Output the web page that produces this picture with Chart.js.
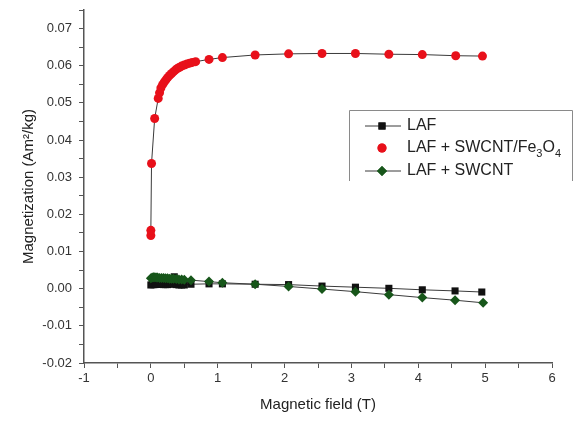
<!DOCTYPE html>
<html>
<head>
<meta charset="utf-8">
<script src="https://cdn.jsdelivr.net/npm/chart.js@4/dist/chart.umd.min.js"></script>
<style>
    html, body { margin: 0; padding: 0; background: #fff; }
    #wrap { position: relative; width: 578px; height: 421px; }
</style>
</head>
<body>
<div id="wrap"><canvas id="mhChart"></canvas></div>
<script>
// Magnetic field (T) / magnetization (Am2/kg)
const lafField = [0, 0.02, 0.04, 0.06, 0.08, 0.1, 0.13, 0.16, 0.19, 0.22, 0.25, 0.28, 0.31, 0.35, 0.38, 0.42, 0.46, 0.5, 0.6, 0.87, 1.07, 1.56, 2.06, 2.56, 3.06, 3.56, 4.06, 4.55, 4.95];
const lafMag = [0.0010, 0.0011, 0.0011, 0.0011, 0.0012, 0.0012, 0.0012, 0.0012, 0.0011, 0.0011, 0.0011, 0.0012, 0.0013, 0.0032, 0.0011, 0.0010, 0.0010, 0.0010, 0.0012, 0.0013, 0.0013, 0.0012, 0.0011, 0.0007, 0.0004, 0.0001, -0.0003, -0.0006, -0.0009];

const feField = [0, 0, 0.01, 0.057, 0.11, 0.13, 0.15, 0.175, 0.2, 0.225, 0.25, 0.28, 0.31, 0.34, 0.37, 0.4, 0.43, 0.46, 0.5, 0.54, 0.58, 0.62, 0.67, 0.87, 1.07, 1.56, 2.06, 2.56, 3.06, 3.56, 4.06, 4.56, 4.96];
const feMag = [0.0143, 0.0157, 0.0337, 0.0458, 0.0512, 0.0527, 0.0540, 0.0549, 0.0556, 0.0562, 0.0568, 0.0574, 0.0579, 0.0584, 0.0589, 0.0593, 0.0596, 0.0599, 0.0602, 0.0605, 0.0607, 0.0609, 0.0611, 0.0617, 0.0622, 0.0629, 0.0632, 0.0633, 0.0633, 0.0631, 0.0630, 0.0627, 0.0626];

const cntField = [0, 0.02, 0.04, 0.06, 0.08, 0.1, 0.13, 0.16, 0.19, 0.22, 0.25, 0.28, 0.31, 0.34, 0.38, 0.42, 0.46, 0.5, 0.6, 0.87, 1.07, 1.56, 2.06, 2.56, 3.06, 3.56, 4.06, 4.55, 4.97];
const cntMag = [0.0028, 0.0030, 0.0031, 0.0031, 0.0030, 0.0030, 0.0029, 0.0029, 0.0029, 0.0028, 0.0028, 0.0027, 0.0027, 0.0027, 0.0026, 0.0025, 0.0025, 0.0024, 0.0023, 0.0019, 0.0016, 0.0012, 0.0006, -0.0001, -0.0008, -0.0016, -0.0024, -0.0031, -0.0038];

const legendNames = ['LAF', 'LAF + SWCNT/Fe', 'LAF + SWCNT'];

const LINE = '#3a3a3a';
const AXIS = '#555';
const TEXT = '#222';

function toPoints(xs, ys) {
    return xs.map((x, i) => ({ x: x, y: ys[i] }));
}

// Legend box drawn by hand (Fe3O4 needs subscripts)
const legendBox = {
    id: 'legendBox',
    afterDraw(chart) {
        const ctx = chart.ctx;
        const left = 349, top = 110, right = 572, bottom = 181;
        ctx.save();
        ctx.strokeStyle = '#8a8a8a';
        ctx.lineWidth = 1;
        ctx.beginPath();
        ctx.moveTo(left + 0.5, bottom);
        ctx.lineTo(left + 0.5, top + 0.5);
        ctx.lineTo(right + 0.5, top + 0.5);
        ctx.lineTo(right + 0.5, bottom);
        ctx.stroke();

        const rows = [126, 148, 171];
        const styles = chart.data.datasets;
        const mx = 382;
        rows.forEach((y, i) => {
            const ds = styles[i];
            if (ds.showLine) {
                ctx.strokeStyle = LINE;
                ctx.lineWidth = 1;
                ctx.beginPath();
                ctx.moveTo(365, y);
                ctx.lineTo(401, y);
                ctx.stroke();
            }
            ctx.fillStyle = ds.pointBackgroundColor;
            Chart.helpers.drawPoint(ctx, { pointStyle: ds.pointStyle, radius: ds.pointRadius, borderWidth: 0 }, mx, y);
            ctx.fill();
        });

        ctx.fillStyle = TEXT;
        ctx.textBaseline = 'middle';
        ctx.textAlign = 'left';
        const big = '16px "Liberation Sans", Arial, sans-serif';
        const small = '11px "Liberation Sans", Arial, sans-serif';
        const tx = 407;
        ctx.font = big;
        ctx.fillText(legendNames[0], tx, rows[0]);
        ctx.fillText(legendNames[2], tx, rows[2]);

        // LAF + SWCNT/Fe3O4
        let x = tx;
        ctx.font = big;
        ctx.fillText(legendNames[1], x, rows[1]);
        x += ctx.measureText(legendNames[1]).width;
        ctx.font = small;
        ctx.fillText('3', x, rows[1] + 6);
        x += ctx.measureText('3').width;
        ctx.font = big;
        ctx.fillText('O', x, rows[1]);
        x += ctx.measureText('O').width;
        ctx.font = small;
        ctx.fillText('4', x, rows[1] + 6);
        ctx.restore();
    }
};

Chart.defaults.font.family = '"Liberation Sans", Arial, sans-serif';
Chart.defaults.color = '#333';

const isStep = (v, step) => Math.abs(Math.round(v / step) * step - v) < 1e-9;

new Chart(document.getElementById('mhChart'), {
    type: 'scatter',
    data: {
        datasets: [
            {
                label: 'LAF',
                data: toPoints(lafField, lafMag),
                showLine: true,
                borderColor: LINE,
                borderWidth: 1,
                pointStyle: 'rect',
                pointRadius: 5,
                pointBackgroundColor: '#111',
                pointBorderColor: '#111',
                pointBorderWidth: 0,
                order: 3
            },
            {
                label: 'LAF + SWCNT/Fe3O4',
                data: toPoints(feField, feMag),
                showLine: false,
                pointStyle: 'circle',
                pointRadius: 4.5,
                pointBackgroundColor: '#e8101a',
                pointBorderColor: '#e8101a',
                pointBorderWidth: 0,
                order: 1
            },
            {
                label: 'LAF + SWCNT',
                data: toPoints(cntField, cntMag),
                showLine: true,
                borderColor: LINE,
                borderWidth: 1,
                pointStyle: 'rectRot',
                pointRadius: 5,
                pointBackgroundColor: '#17561a',
                pointBorderColor: '#17561a',
                pointBorderWidth: 0,
                order: 2
            },
            // the red curve is joined in the plot, but has no line in the legend
            {
                label: 'fe-line',
                data: toPoints(feField, feMag),
                showLine: true,
                borderColor: LINE,
                borderWidth: 1,
                pointRadius: 0,
                order: 4
            }
        ]
    },
    options: {
        responsive: true,
        maintainAspectRatio: false,
        animation: false,
        layout: { padding: { top: 10, right: 26, left: 0, bottom: 0 } },
        plugins: { legend: { display: false }, tooltip: { enabled: false } },
        scales: {
            x: {
                type: 'linear',
                min: -1,
                max: 6,
                afterFit: (scale) => { scale.height = 58; },
                border: { display: true, color: AXIS, width: 1.5 },
                grid: { drawOnChartArea: false, drawTicks: true, tickLength: 5, tickColor: AXIS },
                ticks: {
                    stepSize: 0.5,
                    autoSkip: false,
                    maxRotation: 0,
                    padding: 3,
                    font: { size: 13 },
                    callback: (v) => isStep(v, 1) ? String(Math.round(v)) : ''
                },
                title: {
                    display: true,
                    text: 'Magnetic field (T)',
                    color: TEXT,
                    font: { size: 15 },
                    padding: { top: 0, bottom: 7 }
                }
            },
            y: {
                type: 'linear',
                min: -0.02,
                max: 0.075,
                afterFit: (scale) => {
                    scale.width = 84;
                    scale.paddingTop = 0;
                    scale.paddingBottom = 0;
                },
                border: { display: true, color: AXIS, width: 1.5 },
                grid: { drawOnChartArea: false, drawTicks: true, tickLength: 5, tickColor: AXIS },
                ticks: {
                    stepSize: 0.005,
                    autoSkip: false,
                    padding: 7,
                    font: { size: 13 },
                    callback: (v) => isStep(v, 0.01) ? (Math.round(v * 100) / 100).toFixed(2) : ''
                },
                title: {
                    display: true,
                    text: 'Magnetization (Am²/kg)',
                    color: TEXT,
                    font: { size: 15 },
                    padding: { top: 20, bottom: 0 }
                }
            }
        }
    },
    plugins: [legendBox]
});
</script>
</body>
</html>
